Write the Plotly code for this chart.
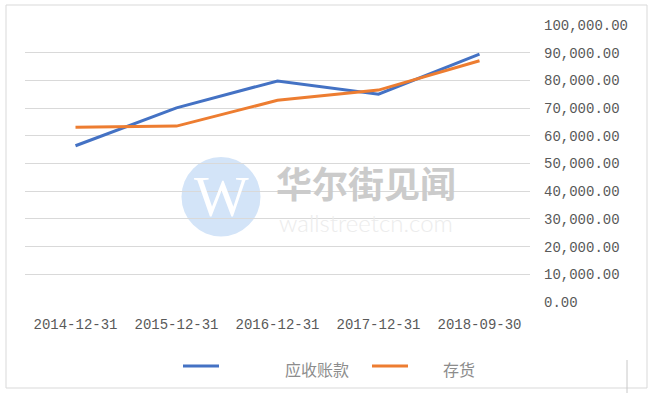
import plotly.graph_objects as go

# ---- data ----
dates = ["2014-12-31", "2015-12-31", "2016-12-31", "2017-12-31", "2018-09-30"]
receivables = [56400, 70100, 79800, 75000, 89500]   # 应收账款
inventory = [63100, 63500, 72800, 76500, 87100]     # 存货
series_names = ["应收账款", "存货"]
series_colors = ["#4472C4", "#ED7D31"]
y_ticks = [0, 10000, 20000, 30000, 40000, 50000, 60000, 70000, 80000, 90000, 100000]

W, H = 658, 398
L, R, T, B = 25, 128, 25, 96
PW, PH = W - L - R, H - T - B


def px(x):
    return (x - L) / PW


def py(y):
    return (H - B - y) / PH


fig = go.Figure()
for name, vals, col in zip(series_names, [receivables, inventory], series_colors):
    fig.add_trace(go.Scatter(
        x=dates, y=vals, name=name, mode="lines",
        line=dict(color=col, width=3), showlegend=False,
    ))

tick_font = dict(family="Liberation Mono, DejaVu Sans Mono, monospace", size=14, color="#595959")

fig.update_layout(
    width=W, height=H,
    margin=dict(l=L, r=R, t=T, b=B),
    paper_bgcolor="white", plot_bgcolor="white",
    xaxis=dict(
        type="category", range=[-0.5, 4.5], showgrid=False, zeroline=False,
        showline=False, ticks="", tickfont=tick_font, ticklabelstandoff=12,
        fixedrange=True,
    ),
    yaxis=dict(
        side="right", range=[0, 100000], tickvals=y_ticks, tickformat=",.2f",
        showgrid=True, gridcolor="#d9d9d9", gridwidth=1, zeroline=False,
        showline=False, ticks="", tickfont=tick_font, ticklabelstandoff=13,
        fixedrange=True,
    ),
)

shapes = []
# outer frame
shapes.append(dict(type="rect", xref="paper", yref="paper",
                   x0=px(6), x1=px(647), y0=py(388), y1=py(5),
                   line=dict(color="#d9d9d9", width=1), fillcolor="rgba(0,0,0,0)", layer="below"))
# small vertical fragment bottom-right
shapes.append(dict(type="line", xref="paper", yref="paper",
                   x0=px(627), x1=px(627), y0=py(393), y1=py(360),
                   line=dict(color="#c8c8c8", width=1)))
# watermark circle
shapes.append(dict(type="circle", xref="paper", yref="paper",
                   x0=px(181.5), x1=px(260.5), y0=py(236.5), y1=py(157),
                   line=dict(width=0), fillcolor="#d3e4f8", layer="below"))
# legend lines
for (x0, x1), col in zip([(183, 219), (372, 408)], series_colors):
    shapes.append(dict(type="line", xref="paper", yref="paper",
                       x0=px(x0), x1=px(x1), y0=py(366), y1=py(366),
                       line=dict(color=col, width=3)))

annotations = []
# watermark texts
annotations.append(dict(text="W", xref="paper", yref="paper", x=px(221), y=py(197),
                        showarrow=False, xanchor="center", yanchor="middle",
                        font=dict(family="Liberation Serif, DejaVu Serif, serif", size=58, color="white")))
annotations.append(dict(
    text=("<span style='font-size:36px;font-weight:bold;color:#cbcbcb;font-family:Noto Sans CJK SC'>华尔街见闻</span>"
          "<br><span style='font-size:24px;font-weight:300;color:#ececec;font-family:Lato'>wallstreetcn.com</span>"),
    xref="paper", yref="paper", x=px(366), y=py(196),
    showarrow=False, xanchor="center", yanchor="middle", borderpad=0,
    font=dict(family="Lato, sans-serif", size=26, color="#cbcbcb")))
# legend texts
for name, cx in zip(series_names, [317, 459]):
    annotations.append(dict(text=name, xref="paper", yref="paper", x=px(cx), y=py(369),
                            showarrow=False, xanchor="center", yanchor="middle",
                            font=dict(family="Noto Sans CJK SC", size=16, color="#8c8c8c")))

fig.update_layout(shapes=shapes, annotations=annotations)

fig.write_html("out.html")
